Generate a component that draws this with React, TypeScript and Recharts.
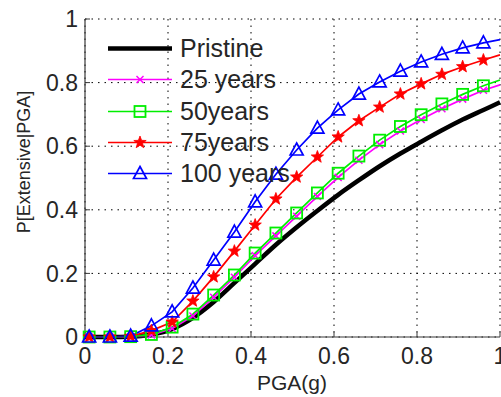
import React from 'react';
import { LineChart, Line, XAxis, YAxis, CartesianGrid, Legend } from 'recharts';

const pga = [0, 0.01, 0.06, 0.11, 0.16, 0.21, 0.26, 0.31, 0.36, 0.41, 0.46, 0.51, 0.56, 0.61, 0.66, 0.71, 0.76, 0.81, 0.86, 0.91, 0.96, 1.0];
const hasMarker = [false, true, true, true, true, true, true, true, true, true, true, true, true, true, true, true, true, true, true, true, true, false];
const pristine = [0, 0, 0, 0.001, 0.008, 0.025, 0.06, 0.11, 0.17, 0.23, 0.29, 0.345, 0.397, 0.447, 0.493, 0.537, 0.577, 0.614, 0.65, 0.684, 0.714, 0.738];
const years25 = [0, 0, 0, 0.001, 0.006, 0.027, 0.066, 0.125, 0.188, 0.256, 0.318, 0.38, 0.442, 0.502, 0.556, 0.605, 0.648, 0.684, 0.718, 0.748, 0.776, 0.793];
const years50 = [0, 0, 0, 0.001, 0.008, 0.031, 0.072, 0.132, 0.195, 0.264, 0.327, 0.39, 0.453, 0.515, 0.569, 0.619, 0.662, 0.699, 0.733, 0.763, 0.79, 0.808];
const years75 = [0, 0, 0, 0.002, 0.02, 0.047, 0.113, 0.189, 0.27, 0.352, 0.434, 0.503, 0.566, 0.629, 0.68, 0.723, 0.764, 0.796, 0.826, 0.85, 0.871, 0.887];
const years100 = [0, 0, 0, 0.003, 0.035, 0.079, 0.154, 0.242, 0.33, 0.425, 0.512, 0.588, 0.657, 0.714, 0.764, 0.802, 0.836, 0.865, 0.889, 0.909, 0.925, 0.935];

const xTicks = [0, 0.2, 0.4, 0.6, 0.8, 1];
const yTicks = [0, 0.2, 0.4, 0.6, 0.8, 1];

const seriesNames = ['Pristine', '25 years', '50years', '75years', '100 years'];
const seriesKeys = ['pristine', 'y25', 'y50', 'y75', 'y100'];
const seriesColors = ['#000000', '#ff00ff', '#00ee00', '#ff0000', '#0000ff'];
const seriesMarkers = ['none', 'x', 'square', 'star', 'triangle'];

const data = pga.map((x, i) => ({
  x,
  m: hasMarker[i],
  pristine: pristine[i],
  y25: years25[i],
  y50: years50[i],
  y75: years75[i],
  y100: years100[i],
}));

const FONT = '"Liberation Sans", Arial, Helvetica, sans-serif';
const TEXT = '#262626';
const AXIS = '#3a3a3a';

function starPath(cx: number, cy: number, ro: number, ri: number) {
  const pts: string[] = [];
  for (let k = 0; k < 10; k++) {
    const r = k % 2 === 0 ? ro : ri;
    const a = -Math.PI / 2 + (k * Math.PI) / 5;
    pts.push(`${(cx + r * Math.cos(a)).toFixed(2)},${(cy + r * Math.sin(a)).toFixed(2)}`);
  }
  return 'M' + pts.join('L') + 'Z';
}

function Marker({ kind, cx, cy, color }: { kind: string; cx: number; cy: number; color: string }) {
  if (kind === 'x') {
    const s = 3.5;
    return (
      <g stroke={color} strokeWidth={1.5}>
        <line x1={cx - s} y1={cy - s} x2={cx + s} y2={cy + s} />
        <line x1={cx - s} y1={cy + s} x2={cx + s} y2={cy - s} />
      </g>
    );
  }
  if (kind === 'square') {
    const s = 5.5;
    return <rect x={cx - s} y={cy - s} width={2 * s} height={2 * s} fill="none" stroke={color} strokeWidth={1.8} />;
  }
  if (kind === 'star') {
    return <path d={starPath(cx, cy, 6.5, 2.7)} fill={color} stroke={color} strokeWidth={0.8} />;
  }
  if (kind === 'triangle') {
    return (
      <path
        d={`M${cx},${cy - 7}L${cx + 6.5},${cy + 5}L${cx - 6.5},${cy + 5}Z`}
        fill="none"
        stroke={color}
        strokeWidth={1.7}
      />
    );
  }
  return null;
}

function makeDot(kind: string, color: string) {
  return (props: any) => {
    const { cx, cy, payload, index } = props;
    if (!payload || !payload.m || cx == null || cy == null) return <g key={`d-${kind}-${index}`} />;
    return (
      <g key={`d-${kind}-${index}`}>
        <Marker kind={kind} cx={cx} cy={cy} color={color} />
      </g>
    );
  };
}

function LegendBox() {
  return (
    <div style={{ fontFamily: FONT, fontSize: 25, color: TEXT }}>
      {seriesNames.map((name, i) => (
        <div key={name} style={{ display: 'flex', alignItems: 'center', height: 31.25 }}>
          <svg width={72} height={31} style={{ display: 'block' }}>
            <line
              x1={0}
              y1={15.5}
              x2={64}
              y2={15.5}
              stroke={seriesColors[i]}
              strokeWidth={i === 0 ? 4.5 : 1.7}
            />
            <Marker kind={seriesMarkers[i]} cx={32} cy={15.5} color={seriesColors[i]} />
          </svg>
          <span style={{ lineHeight: '31px', whiteSpace: 'nowrap' }}>{name}</span>
        </div>
      ))}
    </div>
  );
}

const fmt = (v: number) => (v === 0 ? '0' : v === 1 ? '1' : String(v));

export default function App() {
  return (
    <div style={{ position: 'absolute', left: 0, top: 0, width: 501, height: 397, background: '#fff' }}>
      <LineChart width={501} height={397} data={data} margin={{ top: 19, right: 1, bottom: 0, left: 0 }}>
        <CartesianGrid stroke="#000" strokeDasharray="1.5 5" strokeWidth={1} />
        <XAxis
          dataKey="x"
          type="number"
          domain={[0, 1]}
          ticks={xTicks}
          tickFormatter={fmt}
          height={60}
          tickSize={-5}
          tickMargin={16}
          axisLine={{ stroke: AXIS, strokeWidth: 1.2 }}
          tickLine={{ stroke: AXIS }}
          tick={{ fill: TEXT, fontSize: 23, fontFamily: FONT }}
          interval={0}
          label={() => (
            <text x={292} y={390} textAnchor="middle" fill={TEXT} fontSize={21} fontFamily={FONT}>
              PGA(g)
            </text>
          )}
        />
        <XAxis
          xAxisId="top"
          orientation="top"
          dataKey="x"
          type="number"
          domain={[0, 1]}
          ticks={xTicks}
          tickFormatter={() => ''}
          height={0}
          tickSize={-5}
          axisLine={{ stroke: AXIS, strokeWidth: 1.2 }}
          tickLine={{ stroke: AXIS }}
          interval={0}
        />
        <YAxis
          type="number"
          domain={[0, 1]}
          ticks={yTicks}
          tickFormatter={fmt}
          width={85}
          tickSize={-5}
          tickMargin={12}
          axisLine={{ stroke: AXIS, strokeWidth: 1.2 }}
          tickLine={{ stroke: AXIS }}
          tick={{ fill: TEXT, fontSize: 23, fontFamily: FONT }}
          interval={0}
          label={() => (
            <text
              x={24}
              y={162}
              transform="rotate(-90 24 162)"
              textAnchor="middle"
              dominantBaseline="central"
              fill={TEXT}
              fontSize={18}
              fontFamily={FONT}
            >
              P[Extensive|PGA]
            </text>
          )}
        />
        <YAxis
          yAxisId="right"
          orientation="right"
          type="number"
          domain={[0, 1]}
          ticks={yTicks}
          tickFormatter={() => ''}
          width={0}
          tickSize={-5}
          axisLine={{ stroke: AXIS, strokeWidth: 1.2 }}
          tickLine={{ stroke: AXIS }}
          interval={0}
        />
        {seriesKeys.map((k, i) => (
          <Line
            key={k}
            dataKey={k}
            type={i === 0 ? 'monotone' : 'linear'}
            stroke={seriesColors[i]}
            strokeWidth={i === 0 ? 4.5 : 1.7}
            dot={i === 0 ? false : makeDot(seriesMarkers[i], seriesColors[i])}
            activeDot={false}
            isAnimationActive={false}
          />
        ))}
        <Legend
          layout="vertical"
          align="center"
          verticalAlign="middle"
          content={() => <LegendBox />}
          wrapperStyle={{ left: 108, top: 33, width: 'auto', height: 'auto' }}
        />
      </LineChart>
    </div>
  );
}
